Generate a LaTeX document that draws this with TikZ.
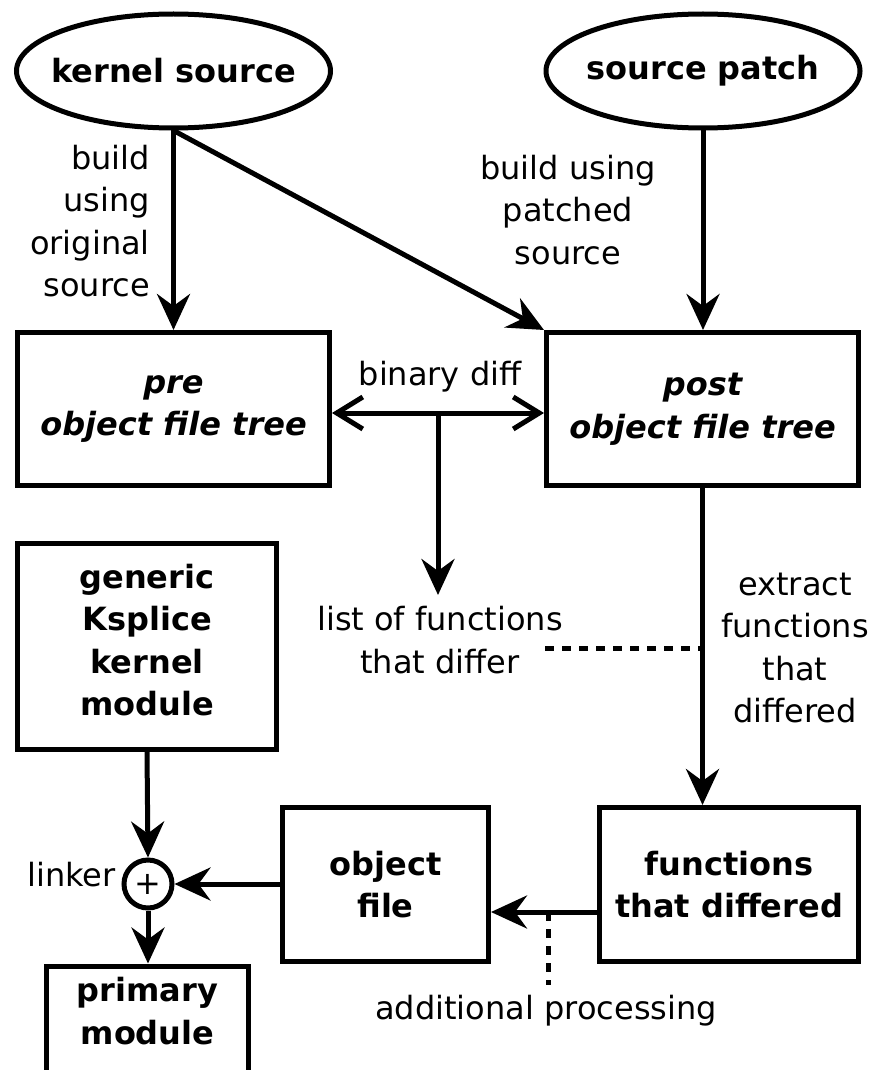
\documentclass[tikz,border=0pt]{standalone}
\usepackage{fontspec}
\setmainfont{DejaVu Sans}
\usetikzlibrary{shapes.geometric,arrows.meta}
\begin{document}
\begin{tikzpicture}[x=1pt,y=-1pt,
  every node/.style={font=\fontsize{32}{42.5}\selectfont},
  lw/.style={line width=5pt},
  ell/.style={draw,lw,ellipse,minimum width=314pt,minimum height=114pt,inner sep=0pt},
  box/.style={draw,lw,rectangle,inner sep=0pt},
  lbl/.style={align=center,inner sep=0pt},
  bl/.style={align=center,inner sep=0pt,font=\fontsize{32}{42.5}\selectfont\bfseries},
  conn/.style={lw,-{Stealth[length=36pt,width=33pt,inset=12pt]}},
  dbl/.style={lw,{Straight Barb[length=26pt,width=32pt]}-{Straight Barb[length=26pt,width=32pt]}},
  dsh/.style={lw,dash pattern=on 9pt off 8pt}]
\useasboundingbox (0,0) rectangle (873,1070);
% ellipses
\node[ell] (ks) at (173.5,71) {};
\node[bl] at (ks) {kernel source};
\node[ell] (sp) at (703,71) {};
\node[bl] at (sp) {source patch};
% boxes
\node[box,minimum width=312pt,minimum height=153pt] (pre) at (173.5,409) {};
\node[bl] at (pre) {\itshape pre\\\itshape object file tree};
\node[box,minimum width=312pt,minimum height=153pt] (post) at (702.5,409) {};
\node[bl] at (post) {\itshape post\\\itshape object file tree};
\node[box,minimum width=259pt,minimum height=206pt] (gen) at (147,646.5) {};
\node[bl] at (147,640) {generic\\Ksplice\\kernel\\module};
\node[box,minimum width=206pt,minimum height=154pt] (obj) at (385.5,884.5) {};
\node[bl] at (obj) {object\\file};
\node[box,minimum width=259pt,minimum height=154pt] (fun) at (729,884.5) {};
\node[bl] at (fun) {functions\\that differed};
\node[box,minimum width=202pt,minimum height=110pt] (prim) at (147.5,1021) {};
\node[bl] at (147.5,1011) {primary\\module};
\node[draw,lw,circle,minimum size=48pt,inner sep=0pt] (lk) at (148,884) {};
\node[lbl] at (lk) {+};
\node[lbl,anchor=east] (lkl) at (116,875) {linker};
% labels
\node[lbl,align=right,anchor=east] (l1) at (150,221) {build\\using\\original\\source};
\node[lbl] (l2) at (568,210) {build using\\patched\\source};
\node[lbl] (l3) at (440,377) {binary diff};
\node[lbl] (lof) at (440,640) {list of functions\\that differ};
\node[lbl] (l5) at (795,648) {extract\\functions\\that\\differed};
\node[lbl] (l6) at (546,1011) {additional processing};
% coordinates
\coordinate (bd) at (438,413);
\coordinate (lofTop) at (438,595);
\coordinate (dashL) at (545,648);
\coordinate (ap) at (548,912);
\coordinate (apEnd) at (548,985);
% connectors
\draw[conn] (ks.south) -- (ks.south |- pre.north);
\draw[conn] (ks.south) -- (post.north west);
\draw[conn] (sp.south) -- (sp.south |- post.north);
\draw[dbl] (pre.east |- bd) -- (post.west |- bd);
\draw[conn] (bd) -- (lofTop);
\draw[dsh] (dashL) -- (post.south |- dashL);
\draw[conn] (post.south) -- (post.south |- fun.north);
\draw[conn] (fun.west |- ap) -- (obj.east |- ap);
\draw[dsh] (ap) -- (apEnd);
\draw[conn] (gen.south) -- (lk.north);
\draw[conn] (obj.west |- lk) -- (lk.east);
\draw[conn] (lk.south) -- (lk.south |- prim.north);
\end{tikzpicture}
\end{document}
